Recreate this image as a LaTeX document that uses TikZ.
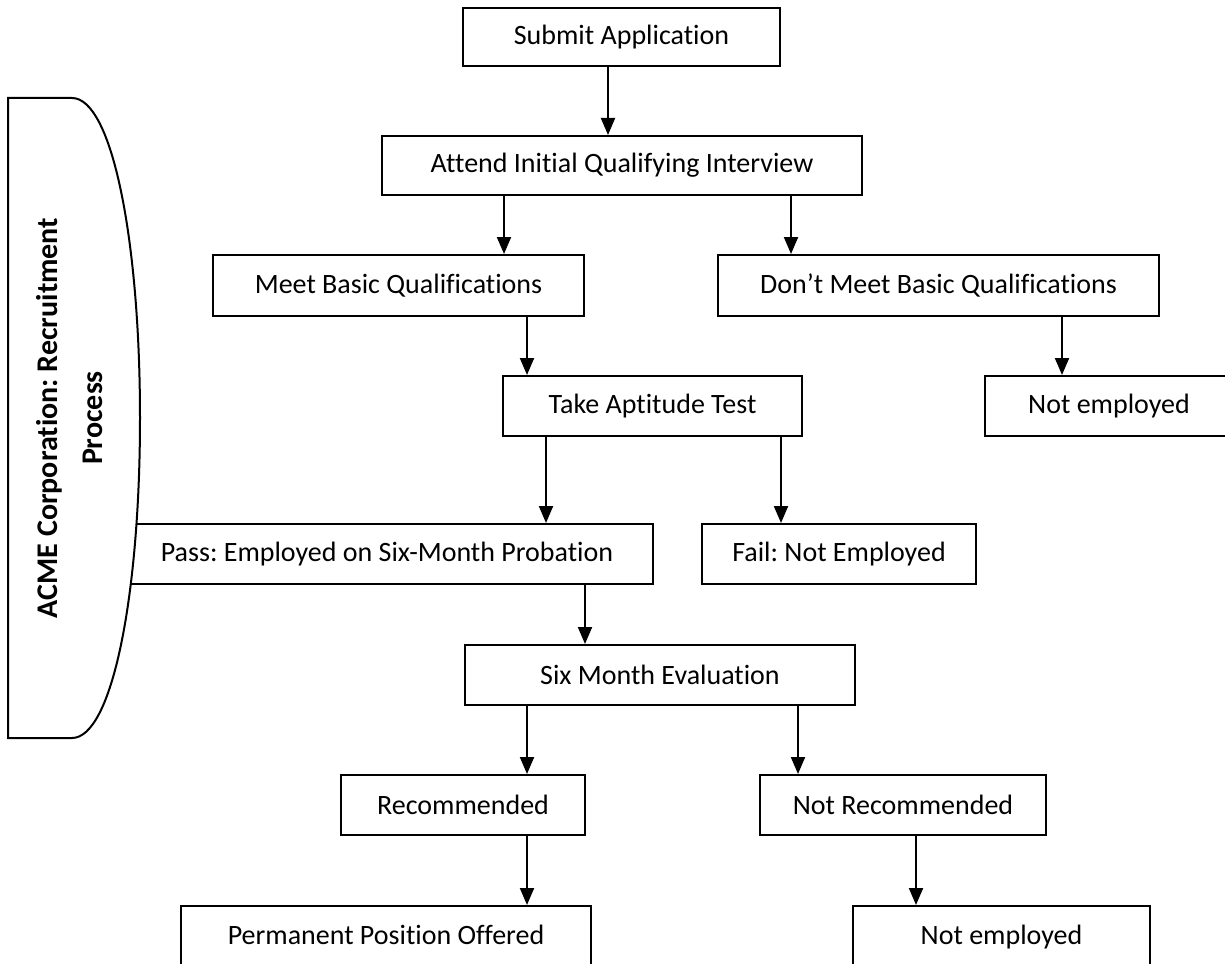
\documentclass[tikz,border=0pt]{standalone}
\usepackage{fontspec}
\setmainfont{Carlito}[Ligatures=CommonOff]
\usetikzlibrary{arrows.meta}
\frenchspacing
\begin{document}
\begin{tikzpicture}[x=1pt,y=1pt,
  box/.style={draw,line width=2pt,fill=white,inner sep=0pt,font=\fontsize{28}{33}\selectfont\frenchspacing},
  arr/.style={line width=2pt,-{Triangle[width=14pt,length=17pt]}}]
\useasboundingbox (0,0) rectangle (1225,-963);
\fill[white] (0,0) rectangle (1225,-963);
\node[box,minimum width=317pt,minimum height=58pt] (sub) at (621.5,-37) {Submit Application};
\node[box,minimum width=480pt,minimum height=59pt] (att) at (622,-165.5) {Attend Initial Qualifying Interview};
\node[box,minimum width=371pt,minimum height=61pt] (meet) at (398.5,-285.5) {Meet Basic Qualifications};
\node[box,minimum width=441pt,minimum height=61pt] (dont) at (938.5,-285.5) {Don’t Meet Basic Qualifications};
\node[box,minimum width=299pt,minimum height=60pt] (take) at (652.5,-406) {Take Aptitude Test};
\node[box,minimum width=248pt,minimum height=60pt] (ne1) at (1109,-406) {Not employed};
\node[box,minimum width=532pt,minimum height=60pt] (pass) at (387,-554) {Pass: Employed on Six-Month Probation};
\node[box,minimum width=274pt,minimum height=60pt] (fail) at (839,-554) {Fail: Not Employed};
\node[box,minimum width=390pt,minimum height=60pt] (six) at (660,-675) {Six Month Evaluation};
\node[box,minimum width=244pt,minimum height=60pt] (rec) at (463,-805) {Recommended};
\node[box,minimum width=286pt,minimum height=60pt] (nrec) at (903,-805) {Not Recommended};
\node[box,minimum width=410pt,minimum height=64pt,text depth=7pt] (perm) at (386,-938) {Permanent Position Offered};
\node[box,minimum width=297pt,minimum height=64pt,text depth=7pt] (ne2) at (1001.5,-938) {Not employed};
% side banner
\draw[line width=2pt,fill=white] (8,-98) -- (72,-98)
  .. controls (112,-98) and (140,-240) .. (140,-418)
  .. controls (140,-596) and (112,-738) .. (72,-738) -- (8,-738) -- cycle;
\node[rotate=90,align=center,font=\fontsize{30}{45}\selectfont\bfseries] (title) at (70,-418) {ACME Corporation: Recruitment\\Process};
% connectors
\draw[arr] (608,0 |- sub.south) -- (608,0 |- att.north);
\draw[arr] (504,0 |- att.south) -- (504,0 |- meet.north);
\draw[arr] (791,0 |- att.south) -- (791,0 |- dont.north);
\draw[arr] (527,0 |- meet.south) -- (527,0 |- take.north);
\draw[arr] (1062,0 |- dont.south) -- (1062,0 |- ne1.north);
\draw[arr] (546,0 |- take.south) -- (546,0 |- pass.north);
\draw[arr] (781,0 |- take.south) -- (781,0 |- fail.north);
\draw[arr] (585,0 |- pass.south) -- (585,0 |- six.north);
\draw[arr] (527,0 |- six.south) -- (527,0 |- rec.north);
\draw[arr] (798,0 |- six.south) -- (798,0 |- nrec.north);
\draw[arr] (527,0 |- rec.south) -- (527,0 |- perm.north);
\draw[arr] (916,0 |- nrec.south) -- (916,0 |- ne2.north);
\end{tikzpicture}
\end{document}
